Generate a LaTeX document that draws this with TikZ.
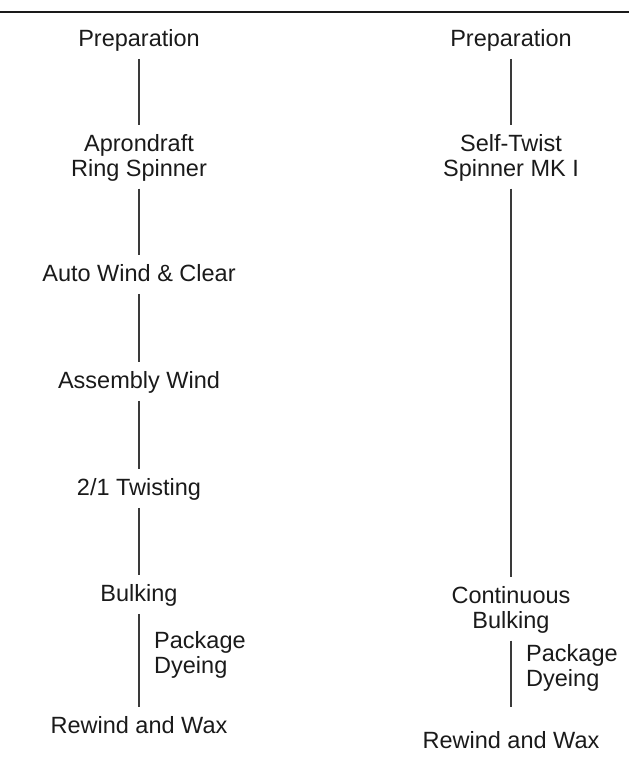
\documentclass[tikz,border=0pt]{standalone}
\usepackage{fontspec}
\setmainfont{Liberation Sans}
\usepackage{tikz}
\usetikzlibrary{positioning}
\definecolor{ink}{HTML}{1A1A1A}
\definecolor{lead}{HTML}{3A3A3A}

\begin{document}
\begin{tikzpicture}[x=1pt,y=-1pt,
  stage/.style={inner sep=0pt,align=center,font=\fontsize{23.5}{24.5}\selectfont,text=ink,
    execute at begin node=\strut,execute at end node=\strut},
  side/.style={stage,align=left,anchor=west},
  flow/.style={lead,line width=1.1pt,shorten <=5pt,shorten >=9pt}]
\useasboundingbox (0,0) rectangle (629,758);
\draw[ink,line width=1.6pt] (0,12) -- (629,12);
% left route
\node[stage] (prepL) at (139,41.4) {Preparation};
\node[stage] (aprL) at (139,159) {Aprondraft\\Ring Spinner};
\node[stage] (autoL) at (139,276.5) {Auto Wind \& Clear};
\node[stage] (asmL) at (139,383.5) {Assembly Wind};
\node[stage] (twistL) at (139,490.5) {2/1 Twisting};
\node[stage] (bulkL) at (139,596.5) {Bulking};
\node[stage] (rewL) at (139,728.5) {Rewind and Wax};
\node[side] (dyeL) at (154,656) {Package\\Dyeing};
\draw[flow] (prepL) -- (aprL);
\draw[flow] (aprL) -- (autoL);
\draw[flow] (autoL) -- (asmL);
\draw[flow] (asmL) -- (twistL);
\draw[flow] (twistL) -- (bulkL);
\draw[flow] (bulkL) -- (rewL);
% right route
\node[stage] (prepR) at (511,41.4) {Preparation};
\node[stage] (stR) at (511,159) {Self-Twist\\Spinner MK I};
\node[stage] (contR) at (511,611) {Continuous\\Bulking};
\node[stage] (rewR) at (511,743.5) {Rewind and Wax};
\node[side] (dyeR) at (526,669) {Package\\Dyeing};
\draw[flow] (prepR) -- (stR);
\draw[flow] (stR) -- (contR);
\draw[flow,shorten >=24pt] (contR) -- (rewR);
\end{tikzpicture}
\end{document}
